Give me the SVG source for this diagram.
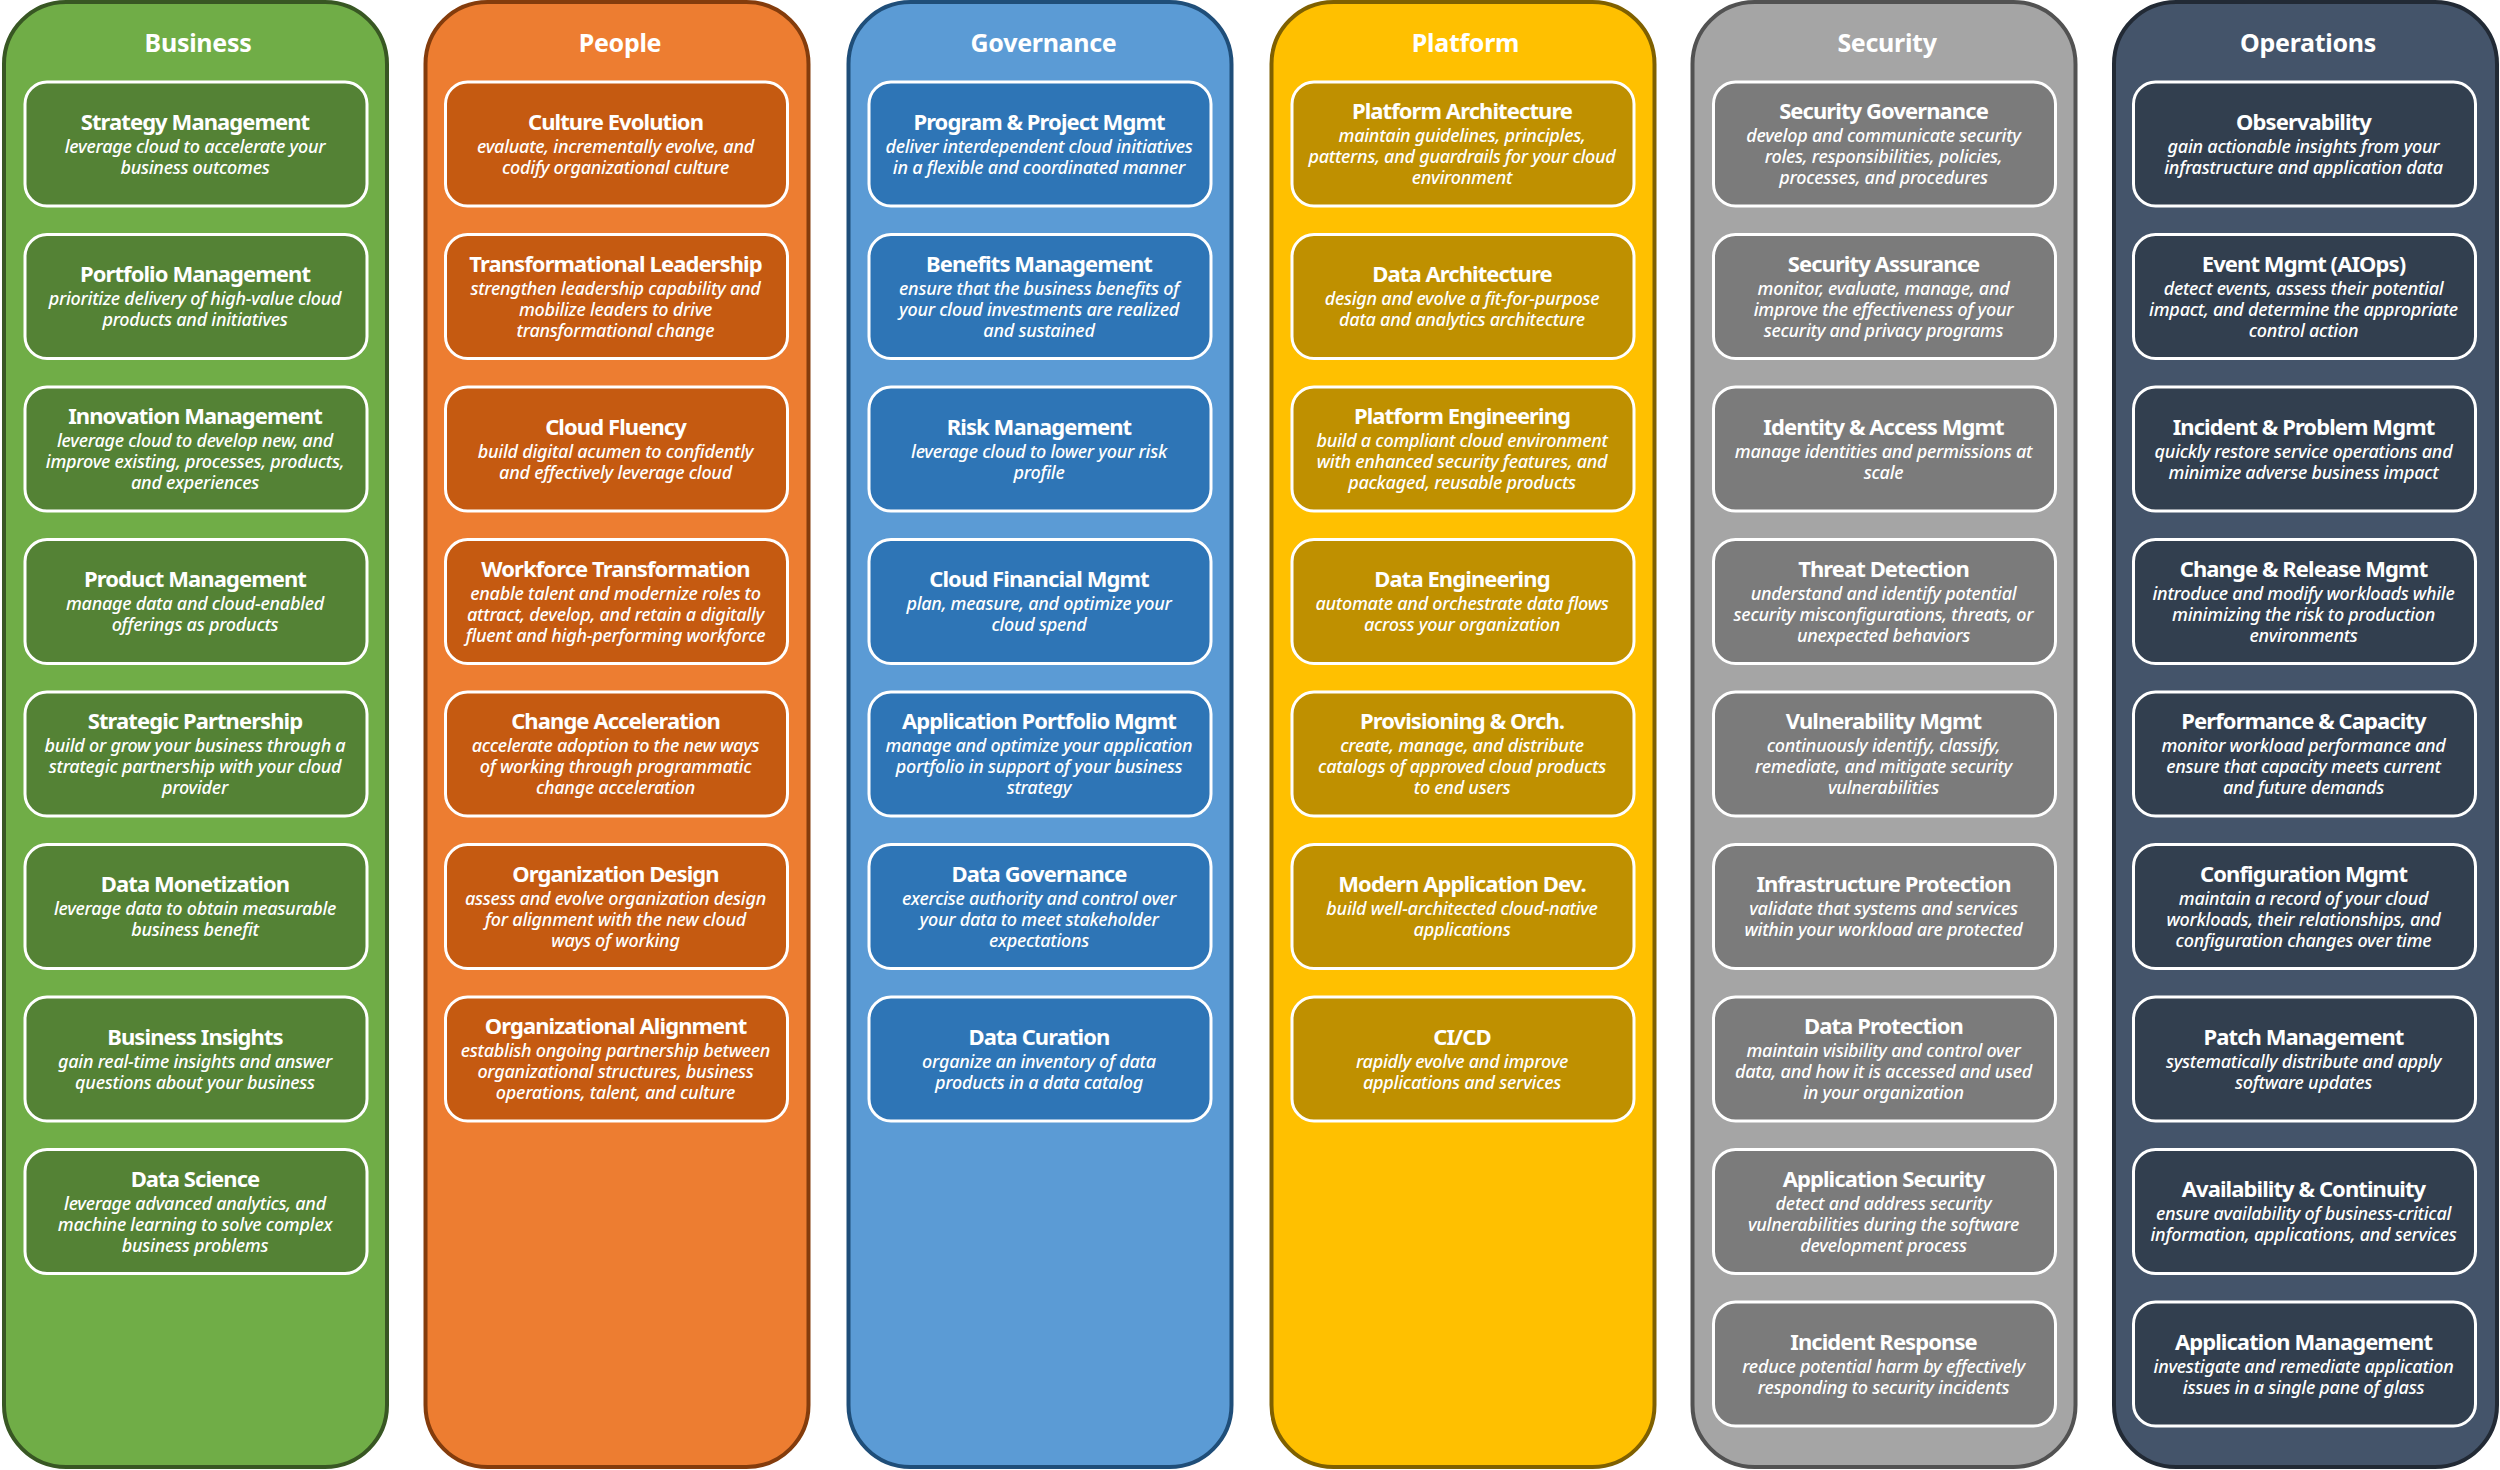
<svg xmlns="http://www.w3.org/2000/svg" width="2500" height="1470" viewBox="0 0 2500 1470">
<style>
text{font-family:"Noto Sans","Open Sans","Liberation Sans",sans-serif;fill:#fff;text-anchor:middle}
.h{font-size:25px;font-weight:700;letter-spacing:-.3px}
.t{font-size:22px;font-weight:700;letter-spacing:-.92px}
.d{font-size:18px;font-style:italic;font-weight:500;letter-spacing:-.25px}
.card{stroke:#fff;stroke-width:3}
.col{stroke-width:4}
.gc{fill:#70AD47;stroke:#385723}.g{fill:#548235}
.oc{fill:#ED7D31;stroke:#843C0C}.o{fill:#C55A11}
.bc{fill:#5B9BD5;stroke:#1F4E79}.b{fill:#2E75B6}
.yc{fill:#FFC000;stroke:#7F6000}.y{fill:#BF9000}
.ac{fill:#A5A5A5;stroke:#525252}.a{fill:#7B7B7B}
.nc{fill:#44546A;stroke:#222A35}.n{fill:#323F4F}
</style>
<g id="column-business">
<rect class="col gc" x="4" y="2" width="383" height="1465" rx="62"/>
<text class="h" x="198" y="52">Business</text>
<g id="strategy-management" transform="translate(25,82)"><rect class="card g" width="342" height="124" rx="22"/><text class="t" x="170" y="47.5">Strategy Management</text><text class="d" x="170" y="70.5">leverage cloud to accelerate your</text><text class="d" x="170" y="91.5">business outcomes</text></g>
<g id="portfolio-management" transform="translate(25,234.5)"><rect class="card g" width="342" height="124" rx="22"/><text class="t" x="170" y="47.5">Portfolio Management</text><text class="d" x="170" y="70.5">prioritize delivery of high-value cloud</text><text class="d" x="170" y="91.5">products and initiatives</text></g>
<g id="innovation-management" transform="translate(25,387)"><rect class="card g" width="342" height="124" rx="22"/><text class="t" x="170" y="37">Innovation Management</text><text class="d" x="170" y="60">leverage cloud to develop new, and</text><text class="d" x="170" y="81">improve existing, processes, products,</text><text class="d" x="170" y="102">and experiences</text></g>
<g id="product-management" transform="translate(25,539.5)"><rect class="card g" width="342" height="124" rx="22"/><text class="t" x="170" y="47.5">Product Management</text><text class="d" x="170" y="70.5">manage data and cloud-enabled</text><text class="d" x="170" y="91.5">offerings as products</text></g>
<g id="strategic-partnership" transform="translate(25,692)"><rect class="card g" width="342" height="124" rx="22"/><text class="t" x="170" y="37">Strategic Partnership</text><text class="d" x="170" y="60">build or grow your business through a</text><text class="d" x="170" y="81">strategic partnership with your cloud</text><text class="d" x="170" y="102">provider</text></g>
<g id="data-monetization" transform="translate(25,844.5)"><rect class="card g" width="342" height="124" rx="22"/><text class="t" x="170" y="47.5">Data Monetization</text><text class="d" x="170" y="70.5">leverage data to obtain measurable</text><text class="d" x="170" y="91.5">business benefit</text></g>
<g id="business-insights" transform="translate(25,997)"><rect class="card g" width="342" height="124" rx="22"/><text class="t" x="170" y="47.5">Business Insights</text><text class="d" x="170" y="70.5">gain real-time insights and answer</text><text class="d" x="170" y="91.5">questions about your business</text></g>
<g id="data-science" transform="translate(25,1149.5)"><rect class="card g" width="342" height="124" rx="22"/><text class="t" x="170" y="37">Data Science</text><text class="d" x="170" y="60">leverage advanced analytics, and</text><text class="d" x="170" y="81">machine learning to solve complex</text><text class="d" x="170" y="102">business problems</text></g>
</g>
<g id="column-people">
<rect class="col oc" x="425.5" y="2" width="383" height="1465" rx="62"/>
<text class="h" x="620" y="52">People</text>
<g id="culture-evolution" transform="translate(445.5,82)"><rect class="card o" width="342" height="124" rx="22"/><text class="t" x="170" y="47.5">Culture Evolution</text><text class="d" x="170" y="70.5">evaluate, incrementally evolve, and</text><text class="d" x="170" y="91.5">codify organizational culture</text></g>
<g id="transformational-leadership" transform="translate(445.5,234.5)"><rect class="card o" width="342" height="124" rx="22"/><text class="t" x="170" y="37">Transformational Leadership</text><text class="d" x="170" y="60">strengthen leadership capability and</text><text class="d" x="170" y="81">mobilize leaders to drive</text><text class="d" x="170" y="102">transformational change</text></g>
<g id="cloud-fluency" transform="translate(445.5,387)"><rect class="card o" width="342" height="124" rx="22"/><text class="t" x="170" y="47.5">Cloud Fluency</text><text class="d" x="170" y="70.5">build digital acumen to confidently</text><text class="d" x="170" y="91.5">and effectively leverage cloud</text></g>
<g id="workforce-transformation" transform="translate(445.5,539.5)"><rect class="card o" width="342" height="124" rx="22"/><text class="t" x="170" y="37">Workforce Transformation</text><text class="d" x="170" y="60">enable talent and modernize roles to</text><text class="d" x="170" y="81">attract, develop, and retain a digitally</text><text class="d" x="170" y="102">fluent and high-performing workforce</text></g>
<g id="change-acceleration" transform="translate(445.5,692)"><rect class="card o" width="342" height="124" rx="22"/><text class="t" x="170" y="37">Change Acceleration</text><text class="d" x="170" y="60">accelerate adoption to the new ways</text><text class="d" x="170" y="81">of working through programmatic</text><text class="d" x="170" y="102">change acceleration</text></g>
<g id="organization-design" transform="translate(445.5,844.5)"><rect class="card o" width="342" height="124" rx="22"/><text class="t" x="170" y="37">Organization Design</text><text class="d" x="170" y="60">assess and evolve organization design</text><text class="d" x="170" y="81">for alignment with the new cloud</text><text class="d" x="170" y="102">ways of working</text></g>
<g id="organizational-alignment" transform="translate(445.5,997)"><rect class="card o" width="342" height="124" rx="22"/><text class="t" x="170" y="37">Organizational Alignment</text><text class="d" x="170" y="60">establish ongoing partnership between</text><text class="d" x="170" y="81">organizational structures, business</text><text class="d" x="170" y="102">operations, talent, and culture</text></g>
</g>
<g id="column-governance">
<rect class="col bc" x="848.5" y="2" width="383" height="1465" rx="62"/>
<text class="h" x="1043.5" y="52">Governance</text>
<g id="program-project-mgmt" transform="translate(869,82)"><rect class="card b" width="342" height="124" rx="22"/><text class="t" x="170" y="47.5">Program &amp; Project Mgmt</text><text class="d" x="170" y="70.5">deliver interdependent cloud initiatives</text><text class="d" x="170" y="91.5">in a flexible and coordinated manner</text></g>
<g id="benefits-management" transform="translate(869,234.5)"><rect class="card b" width="342" height="124" rx="22"/><text class="t" x="170" y="37">Benefits Management</text><text class="d" x="170" y="60">ensure that the business benefits of</text><text class="d" x="170" y="81">your cloud investments are realized</text><text class="d" x="170" y="102">and sustained</text></g>
<g id="risk-management" transform="translate(869,387)"><rect class="card b" width="342" height="124" rx="22"/><text class="t" x="170" y="47.5">Risk Management</text><text class="d" x="170" y="70.5">leverage cloud to lower your risk</text><text class="d" x="170" y="91.5">profile</text></g>
<g id="cloud-financial-mgmt" transform="translate(869,539.5)"><rect class="card b" width="342" height="124" rx="22"/><text class="t" x="170" y="47.5">Cloud Financial Mgmt</text><text class="d" x="170" y="70.5">plan, measure, and optimize your</text><text class="d" x="170" y="91.5">cloud spend</text></g>
<g id="application-portfolio-mgmt" transform="translate(869,692)"><rect class="card b" width="342" height="124" rx="22"/><text class="t" x="170" y="37">Application Portfolio Mgmt</text><text class="d" x="170" y="60">manage and optimize your application</text><text class="d" x="170" y="81">portfolio in support of your business</text><text class="d" x="170" y="102">strategy</text></g>
<g id="data-governance" transform="translate(869,844.5)"><rect class="card b" width="342" height="124" rx="22"/><text class="t" x="170" y="37">Data Governance</text><text class="d" x="170" y="60">exercise authority and control over</text><text class="d" x="170" y="81">your data to meet stakeholder</text><text class="d" x="170" y="102">expectations</text></g>
<g id="data-curation" transform="translate(869,997)"><rect class="card b" width="342" height="124" rx="22"/><text class="t" x="170" y="47.5">Data Curation</text><text class="d" x="170" y="70.5">organize an inventory of data</text><text class="d" x="170" y="91.5">products in a data catalog</text></g>
</g>
<g id="column-platform">
<rect class="col yc" x="1271.5" y="2" width="383" height="1465" rx="62"/>
<text class="h" x="1465.5" y="52">Platform</text>
<g id="platform-architecture" transform="translate(1292,82)"><rect class="card y" width="342" height="124" rx="22"/><text class="t" x="170" y="37">Platform Architecture</text><text class="d" x="170" y="60">maintain guidelines, principles,</text><text class="d" x="170" y="81">patterns, and guardrails for your cloud</text><text class="d" x="170" y="102">environment</text></g>
<g id="data-architecture" transform="translate(1292,234.5)"><rect class="card y" width="342" height="124" rx="22"/><text class="t" x="170" y="47.5">Data Architecture</text><text class="d" x="170" y="70.5">design and evolve a fit-for-purpose</text><text class="d" x="170" y="91.5">data and analytics architecture</text></g>
<g id="platform-engineering" transform="translate(1292,387)"><rect class="card y" width="342" height="124" rx="22"/><text class="t" x="170" y="37">Platform Engineering</text><text class="d" x="170" y="60">build a compliant cloud environment</text><text class="d" x="170" y="81">with enhanced security features, and</text><text class="d" x="170" y="102">packaged, reusable products</text></g>
<g id="data-engineering" transform="translate(1292,539.5)"><rect class="card y" width="342" height="124" rx="22"/><text class="t" x="170" y="47.5">Data Engineering</text><text class="d" x="170" y="70.5">automate and orchestrate data flows</text><text class="d" x="170" y="91.5">across your organization</text></g>
<g id="provisioning-orch" transform="translate(1292,692)"><rect class="card y" width="342" height="124" rx="22"/><text class="t" x="170" y="37">Provisioning &amp; Orch.</text><text class="d" x="170" y="60">create, manage, and distribute</text><text class="d" x="170" y="81">catalogs of approved cloud products</text><text class="d" x="170" y="102">to end users</text></g>
<g id="modern-application-dev" transform="translate(1292,844.5)"><rect class="card y" width="342" height="124" rx="22"/><text class="t" x="170" y="47.5">Modern Application Dev.</text><text class="d" x="170" y="70.5">build well-architected cloud-native</text><text class="d" x="170" y="91.5">applications</text></g>
<g id="ci-cd" transform="translate(1292,997)"><rect class="card y" width="342" height="124" rx="22"/><text class="t" x="170" y="47.5">CI/CD</text><text class="d" x="170" y="70.5">rapidly evolve and improve</text><text class="d" x="170" y="91.5">applications and services</text></g>
</g>
<g id="column-security">
<rect class="col ac" x="1692.5" y="2" width="383" height="1465" rx="62"/>
<text class="h" x="1887" y="52">Security</text>
<g id="security-governance" transform="translate(1713.5,82)"><rect class="card a" width="342" height="124" rx="22"/><text class="t" x="170" y="37">Security Governance</text><text class="d" x="170" y="60">develop and communicate security</text><text class="d" x="170" y="81">roles, responsibilities, policies,</text><text class="d" x="170" y="102">processes, and procedures</text></g>
<g id="security-assurance" transform="translate(1713.5,234.5)"><rect class="card a" width="342" height="124" rx="22"/><text class="t" x="170" y="37">Security Assurance</text><text class="d" x="170" y="60">monitor, evaluate, manage, and</text><text class="d" x="170" y="81">improve the effectiveness of your</text><text class="d" x="170" y="102">security and privacy programs</text></g>
<g id="identity-access-mgmt" transform="translate(1713.5,387)"><rect class="card a" width="342" height="124" rx="22"/><text class="t" x="170" y="47.5">Identity &amp; Access Mgmt</text><text class="d" x="170" y="70.5">manage identities and permissions at</text><text class="d" x="170" y="91.5">scale</text></g>
<g id="threat-detection" transform="translate(1713.5,539.5)"><rect class="card a" width="342" height="124" rx="22"/><text class="t" x="170" y="37">Threat Detection</text><text class="d" x="170" y="60">understand and identify potential</text><text class="d" x="170" y="81">security misconfigurations, threats, or</text><text class="d" x="170" y="102">unexpected behaviors</text></g>
<g id="vulnerability-mgmt" transform="translate(1713.5,692)"><rect class="card a" width="342" height="124" rx="22"/><text class="t" x="170" y="37">Vulnerability Mgmt</text><text class="d" x="170" y="60">continuously identify, classify,</text><text class="d" x="170" y="81">remediate, and mitigate security</text><text class="d" x="170" y="102">vulnerabilities</text></g>
<g id="infrastructure-protection" transform="translate(1713.5,844.5)"><rect class="card a" width="342" height="124" rx="22"/><text class="t" x="170" y="47.5">Infrastructure Protection</text><text class="d" x="170" y="70.5">validate that systems and services</text><text class="d" x="170" y="91.5">within your workload are protected</text></g>
<g id="data-protection" transform="translate(1713.5,997)"><rect class="card a" width="342" height="124" rx="22"/><text class="t" x="170" y="37">Data Protection</text><text class="d" x="170" y="60">maintain visibility and control over</text><text class="d" x="170" y="81">data, and how it is accessed and used</text><text class="d" x="170" y="102">in your organization</text></g>
<g id="application-security" transform="translate(1713.5,1149.5)"><rect class="card a" width="342" height="124" rx="22"/><text class="t" x="170" y="37">Application Security</text><text class="d" x="170" y="60">detect and address security</text><text class="d" x="170" y="81">vulnerabilities during the software</text><text class="d" x="170" y="102">development process</text></g>
<g id="incident-response" transform="translate(1713.5,1302)"><rect class="card a" width="342" height="124" rx="22"/><text class="t" x="170" y="47.5">Incident Response</text><text class="d" x="170" y="70.5">reduce potential harm by effectively</text><text class="d" x="170" y="91.5">responding to security incidents</text></g>
</g>
<g id="column-operations">
<rect class="col nc" x="2114" y="2" width="383" height="1465" rx="62"/>
<text class="h" x="2308" y="52">Operations</text>
<g id="observability" transform="translate(2133.5,82)"><rect class="card n" width="342" height="124" rx="22"/><text class="t" x="170" y="47.5">Observability</text><text class="d" x="170" y="70.5">gain actionable insights from your</text><text class="d" x="170" y="91.5">infrastructure and application data</text></g>
<g id="event-mgmt" transform="translate(2133.5,234.5)"><rect class="card n" width="342" height="124" rx="22"/><text class="t" x="170" y="37">Event Mgmt (AIOps)</text><text class="d" x="170" y="60">detect events, assess their potential</text><text class="d" x="170" y="81">impact, and determine the appropriate</text><text class="d" x="170" y="102">control action</text></g>
<g id="incident-problem-mgmt" transform="translate(2133.5,387)"><rect class="card n" width="342" height="124" rx="22"/><text class="t" x="170" y="47.5">Incident &amp; Problem Mgmt</text><text class="d" x="170" y="70.5">quickly restore service operations and</text><text class="d" x="170" y="91.5">minimize adverse business impact</text></g>
<g id="change-release-mgmt" transform="translate(2133.5,539.5)"><rect class="card n" width="342" height="124" rx="22"/><text class="t" x="170" y="37">Change &amp; Release Mgmt</text><text class="d" x="170" y="60">introduce and modify workloads while</text><text class="d" x="170" y="81">minimizing the risk to production</text><text class="d" x="170" y="102">environments</text></g>
<g id="performance-capacity" transform="translate(2133.5,692)"><rect class="card n" width="342" height="124" rx="22"/><text class="t" x="170" y="37">Performance &amp; Capacity</text><text class="d" x="170" y="60">monitor workload performance and</text><text class="d" x="170" y="81">ensure that capacity meets current</text><text class="d" x="170" y="102">and future demands</text></g>
<g id="configuration-mgmt" transform="translate(2133.5,844.5)"><rect class="card n" width="342" height="124" rx="22"/><text class="t" x="170" y="37">Configuration Mgmt</text><text class="d" x="170" y="60">maintain a record of your cloud</text><text class="d" x="170" y="81">workloads, their relationships, and</text><text class="d" x="170" y="102">configuration changes over time</text></g>
<g id="patch-management" transform="translate(2133.5,997)"><rect class="card n" width="342" height="124" rx="22"/><text class="t" x="170" y="47.5">Patch Management</text><text class="d" x="170" y="70.5">systematically distribute and apply</text><text class="d" x="170" y="91.5">software updates</text></g>
<g id="availability-continuity" transform="translate(2133.5,1149.5)"><rect class="card n" width="342" height="124" rx="22"/><text class="t" x="170" y="47.5">Availability &amp; Continuity</text><text class="d" x="170" y="70.5">ensure availability of business-critical</text><text class="d" x="170" y="91.5">information, applications, and services</text></g>
<g id="application-management" transform="translate(2133.5,1302)"><rect class="card n" width="342" height="124" rx="22"/><text class="t" x="170" y="47.5">Application Management</text><text class="d" x="170" y="70.5">investigate and remediate application</text><text class="d" x="170" y="91.5">issues in a single pane of glass</text></g>
</g>
</svg>
